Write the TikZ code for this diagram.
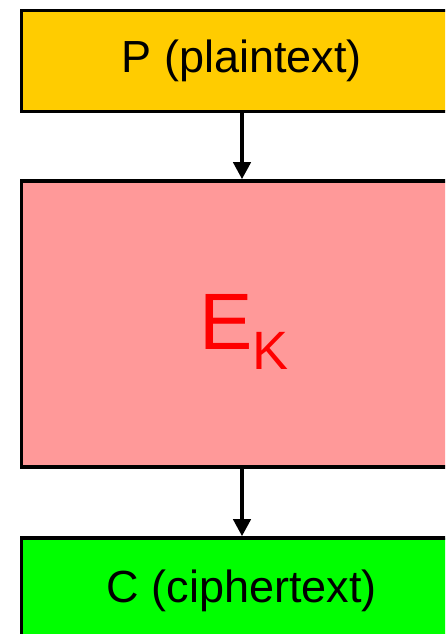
\documentclass[tikz,border=0pt]{standalone}
\usepackage{fontspec}
\setmainfont{Liberation Sans}
\usetikzlibrary{arrows.meta,positioning}
\definecolor{plaincolor}{RGB}{255,204,0}
\definecolor{enccolor}{RGB}{255,153,153}
\definecolor{ciphercolor}{RGB}{0,255,0}

\begin{document}
\begin{tikzpicture}[
    x=1pt, y=1pt,
    box/.style={rectangle, draw, line width=3.5pt, minimum width=441pt, align=center, inner sep=0pt, font=\fontsize{45}{54}\selectfont},
    arrow/.style={-{Triangle[length=17pt,width=17pt]}, line width=4pt}
]
\useasboundingbox (0,0) rectangle (445,634);
\clip (0,0) rectangle (445,634);

% Plaintext
\node[box, fill=plaincolor, minimum height=101pt] (plain) at (242, 573) {P (plaintext)};

% Encryption
\node[box, fill=enccolor, minimum height=286pt] (enc) at (242, 310) {};
\node[text=red, font=\fontsize{80}{96}\selectfont] (ek) at (244, 302) {E\raisebox{-0.24em}{\fontsize{54}{60}\selectfont K}};

% Ciphertext
\node[box, fill=ciphercolor, minimum height=106pt] (cipher) at (242, 43) {C (ciphertext)};

% Arrows
\draw[arrow] (plain) -- (enc);
\draw[arrow] (enc) -- (cipher);

\end{tikzpicture}
\end{document}
